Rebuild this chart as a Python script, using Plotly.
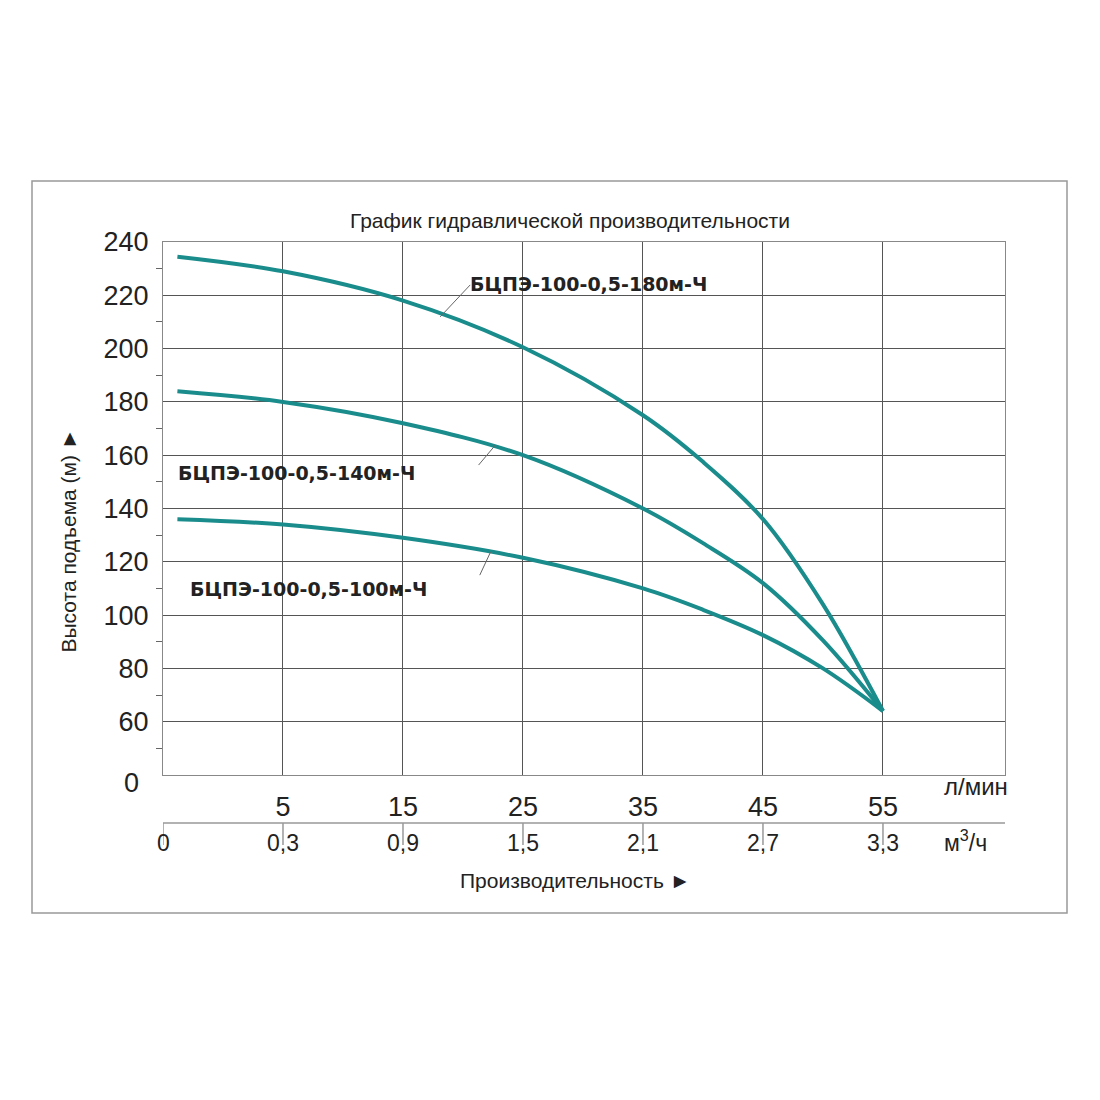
import plotly.graph_objects as go

flow_lpm = [0.6, 5, 15, 25, 35, 40, 45, 50, 55]
head_180 = [234.5, 229, 218, 200.5, 175, 157.5, 136, 104, 64]
head_140 = [184, 180, 172, 160, 140, 127, 112, 90.5, 64]
head_100 = [136, 134, 129, 121.5, 110, 102, 92.5, 80, 64]
tick_lpm = [5, 15, 25, 35, 45, 55]
tick_m3h = ["0", "0,3", "0,9", "1,5", "2,1", "2,7", "3,3"]
y_ticks = [60, 80, 100, 120, 140, 160, 180, 200, 220, 240]

def u(q):
    return q / 5 if q <= 5 else (q + 5) / 10

teal = "#1a8c8c"
fig = go.Figure()
for h in (head_180, head_140, head_100):
    fig.add_trace(go.Scatter(x=[u(q) for q in flow_lpm], y=h, mode="lines",
                             line=dict(color=teal, width=4, shape="spline", smoothing=1.0),
                             showlegend=False, hoverinfo="skip"))

F = "Liberation Sans, Arial, sans-serif"
fig.update_layout(
    width=1100, height=1100, plot_bgcolor="white", paper_bgcolor="white",
    margin=dict(l=155, r=103, t=234, b=333),
    font=dict(family=F, color="#222"),
    xaxis=dict(range=[0, 7.017], tickvals=[u(q) for q in tick_lpm], ticktext=[str(t) for t in tick_lpm],
               showgrid=True, gridcolor="#555", gridwidth=1, zeroline=False,
               showline=True, linecolor="#888", mirror=True, ticks="", tickfont=dict(size=27), ticklabelstandoff=8),
    yaxis=dict(range=[40, 240], tickvals=y_ticks, showgrid=True, gridcolor="#555", gridwidth=1,
               zeroline=False, showline=True, linecolor="#888", mirror=True, ticks="",
               tickfont=dict(size=27), ticklabelstandoff=8,
               minor=dict(ticks="outside", tickvals=[50, 70, 90, 110, 130, 150, 170, 190, 210, 230], ticklen=6, tickcolor="#666")),
)

def px(p):
    return (p - 163) / 842
def py(p):
    return (775 - p) / 533

shapes = [dict(type="rect", xref="paper", yref="paper", x0=px(32), x1=px(1067), y0=py(913), y1=py(181),
               line=dict(color="#999", width=1.5))]
shapes.append(dict(type="line", xref="x", yref="paper", x0=0, x1=7.017, y0=py(823), y1=py(823), line=dict(color="#999", width=1.5)))
for i in range(7):
    shapes.append(dict(type="line", xref="x", yref="paper", x0=i, x1=i, y0=py(823), y1=py(845), line=dict(color="#999", width=1.5)))
for (x0, y0, x1, y1) in [(2.31, 211.9, 2.56, 223.9), (2.63, 156.3, 2.77, 163.8), (2.64, 115, 2.73, 123.7)]:
    shapes.append(dict(type="line", x0=x0, y0=y0, x1=x1, y1=y1, line=dict(color="#666", width=1)))
fig.update_layout(shapes=shapes)

B = "DejaVu Sans, sans-serif"
ann = [
    dict(text="График гидравлической производительности", x=px(570), y=py(207), font=dict(size=21)),
    dict(text="Высота подъема (м) ►", x=px(68), y=0.44, textangle=-90, font=dict(size=21)),
    dict(text="0", x=px(131), y=py(800), font=dict(size=27)),
    dict(text="л/мин", x=px(976), y=py(802), font=dict(size=24)),
    dict(text="м<sup>3</sup>/ч", x=px(965), y=py(858), font=dict(size=23)),
    dict(text="Производительность ►", x=px(575), y=py(894), font=dict(size=21)),
    dict(text="<b>БЦПЭ-100-0,5-180м-Ч</b>", x=px(468), y=py(271), font=dict(size=19, family=B), xanchor="left"),
    dict(text="<b>БЦПЭ-100-0,5-140м-Ч</b>", x=px(176), y=py(473), font=dict(size=19, family=B), xanchor="left"),
    dict(text="<b>БЦПЭ-100-0,5-100м-Ч</b>", x=px(188), y=py(589), font=dict(size=19, family=B), xanchor="left"),
]
for i, t in enumerate(tick_m3h):
    ann.append(dict(text=t, x=i / 7.017, y=py(858), font=dict(size=23)))
for a in ann:
    a.setdefault("xanchor", "center")
    fig.add_annotation(xref="paper", yref="paper", showarrow=False, **a)

fig.write_html("out.html")
